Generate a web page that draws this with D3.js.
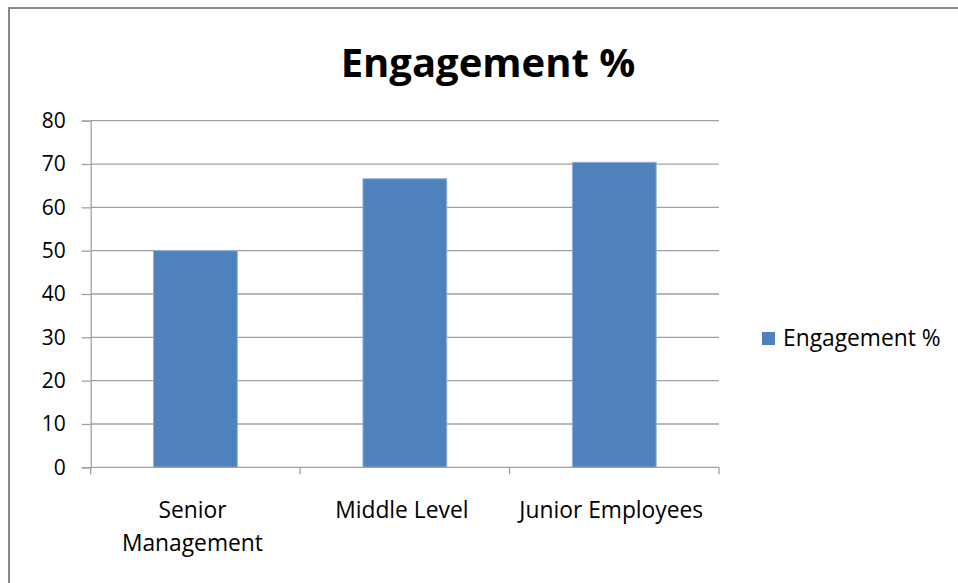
<!DOCTYPE html>
<html>
<head>
<meta charset="utf-8">
<script src="https://cdn.jsdelivr.net/npm/d3@7"></script>
<style>
  html, body { margin: 0; padding: 0; background: #fff; }
  svg { display: block; }
  text { font-family: "Open Sans", "Liberation Sans", sans-serif; fill: #000; }
</style>
</head>
<body>
<svg id="chart" width="958" height="583"></svg>
<script>
// Engagement by employee level
const categories = ["Senior Management", "Middle Level", "Junior Employees"];
const categoryLines = [["Senior", "Management"], ["Middle Level"], ["Junior Employees"]];
const engagement = [50, 66.6, 70.4];
const yTicks = [0, 10, 20, 30, 40, 50, 60, 70, 80];
const seriesName = "Engagement %";
const chartTitle = "Engagement %";

const svg = d3.select("#chart");
const W = 958, H = 583;
const plot = { left: 90.7, right: 719, top: 120.7, bottom: 467.3 };
const barColor = "#4F81BD";
const gridColor = "#a0a0a0";

// outer frame
svg.append("rect")
  .attr("x", 9).attr("y", 8)
  .attr("width", W).attr("height", H)
  .attr("fill", "#fff")
  .attr("stroke", "#878787")
  .attr("stroke-width", 2);

// title
svg.append("text")
  .attr("x", 488).attr("y", 77)
  .attr("text-anchor", "middle")
  .attr("font-size", 40)
  .attr("font-weight", "bold")
  .text(chartTitle);

const x = d3.scaleBand()
  .domain(categories)
  .range([plot.left, plot.right])
  .paddingInner(0.6)
  .paddingOuter(0.3);

const y = d3.scaleLinear()
  .domain([0, 80])
  .range([plot.bottom, plot.top]);

// horizontal gridlines
svg.append("g")
  .selectAll("line")
  .data(yTicks.filter(t => t > 0))
  .join("line")
  .attr("x1", plot.left).attr("x2", plot.right)
  .attr("y1", d => y(d)).attr("y2", d => y(d))
  .attr("stroke", gridColor)
  .attr("stroke-width", 1.3);

// y axis
const yAxis = svg.append("g")
  .attr("transform", `translate(${plot.left},0)`)
  .call(d3.axisLeft(y).tickValues(yTicks).tickSize(9).tickPadding(16).tickFormat(d3.format("d")));
yAxis.select(".domain").attr("stroke", gridColor).attr("stroke-width", 1.3);
yAxis.selectAll(".tick line").attr("stroke", gridColor).attr("stroke-width", 1.3);
yAxis.selectAll(".tick text")
  .attr("font-size", 21)
  .attr("font-family", "'Open Sans', sans-serif")
  .attr("fill", "#000");

// bars
svg.append("g")
  .selectAll("rect")
  .data(categories.map((c, i) => ({ c, v: engagement[i] })))
  .join("rect")
  .attr("x", d => x(d.c))
  .attr("width", x.bandwidth())
  .attr("y", d => y(d.v))
  .attr("height", d => y(0) - y(d.v))
  .attr("fill", barColor)
  .attr("stroke", "#8fb0da")
  .attr("stroke-width", 1);

// x axis line and category dividers
const step = x.step();
const xg = svg.append("g");
xg.append("line")
  .attr("x1", plot.left).attr("x2", plot.right)
  .attr("y1", y(0)).attr("y2", y(0))
  .attr("stroke", gridColor).attr("stroke-width", 1.3);
xg.selectAll("line.div")
  .data(d3.range(categories.length + 1))
  .join("line")
  .attr("class", "div")
  .attr("x1", i => plot.left + i * step).attr("x2", i => plot.left + i * step)
  .attr("y1", y(0)).attr("y2", y(0) + 7)
  .attr("stroke", gridColor).attr("stroke-width", 1.3);

// category labels
const labels = xg.selectAll("text")
  .data(categories)
  .join("text")
  .attr("text-anchor", "middle")
  .attr("font-size", 22.8)
  .attr("x", d => x(d) + x.bandwidth() / 2)
  .attr("y", 518);
labels.each(function (d, i) {
  const t = d3.select(this);
  categoryLines[i].forEach((line, j) => {
    t.append("tspan")
      .attr("x", x(d) + x.bandwidth() / 2 - 3)
      .attr("dy", j === 0 ? 0 : 33)
      .text(line);
  });
});

// legend
const legend = svg.append("g").attr("transform", "translate(762,332)");
legend.append("rect")
  .attr("width", 13).attr("height", 13)
  .attr("fill", barColor);
legend.append("text")
  .attr("x", 21).attr("y", 14)
  .attr("font-size", 22.8)
  .text(seriesName);
</script>
</body>
</html>
